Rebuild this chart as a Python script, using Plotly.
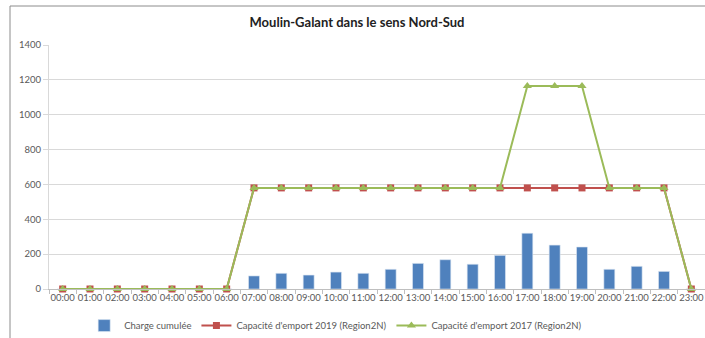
import plotly.graph_objects as go

# Hourly categories
hours = ["00:00", "01:00", "02:00", "03:00", "04:00", "05:00", "06:00", "07:00",
         "08:00", "09:00", "10:00", "11:00", "12:00", "13:00", "14:00", "15:00",
         "16:00", "17:00", "18:00", "19:00", "20:00", "21:00", "22:00", "23:00"]

# Cumulative load per hour
charge_cumulee = [0, 0, 0, 0, 0, 0, 0, 75, 90, 80, 97, 90, 113, 147, 168, 142,
                  193, 320, 252, 241, 113, 130, 101, 0]

# Carrying capacity 2019 (Region2N)
capacite_2019 = [0, 0, 0, 0, 0, 0, 0, 580, 580, 580, 580, 580, 580, 580, 580, 580,
                 580, 580, 580, 580, 580, 580, 580, 0]

# Carrying capacity 2017 (Region2N)
capacite_2017 = [0, 0, 0, 0, 0, 0, 0, 580, 580, 580, 580, 580, 580, 580, 580, 580,
                 580, 1165, 1165, 1165, 580, 580, 580, 0]

y_ticks = [0, 200, 400, 600, 800, 1000, 1200, 1400]

FONT = "Lato, Carlito, 'Open Sans', sans-serif"
GREY_TXT = "#595959"

fig = go.Figure()

fig.add_trace(go.Bar(
    x=hours, y=charge_cumulee, name="Charge cumulée",
    marker=dict(color="#4F81BD", line=dict(color="#DCE6F2", width=0.6)),
))

fig.add_trace(go.Scatter(
    x=hours, y=capacite_2019, name="Capacité d'emport 2019 (Region2N)",
    mode="lines+markers", cliponaxis=False,
    line=dict(color="#C0504D", width=2),
    marker=dict(symbol="square", size=7, color="#C0504D"),
))

fig.add_trace(go.Scatter(
    x=hours, y=capacite_2017, name="Capacité d'emport 2017 (Region2N)",
    mode="lines+markers", cliponaxis=False,
    line=dict(color="#9BBB59", width=2),
    marker=dict(symbol="triangle-up", size=8, color="#9BBB59"),
))

fig.update_layout(
    width=705, height=338,
    margin=dict(l=49, r=0, t=45, b=49, autoexpand=False),
    paper_bgcolor="white", plot_bgcolor="white",
    bargap=0.6,
    font=dict(family=FONT, size=9, color=GREY_TXT),
    title=dict(
        text="<b>Moulin-Galant dans le sens Nord-Sud</b>",
        x=357 / 705, xref="container", xanchor="center",
        y=1 - 22 / 338, yref="container", yanchor="middle",
        font=dict(family=FONT, size=13, color="#222222"),
    ),
    showlegend=True,
    legend=dict(
        orientation="h", x=0.437, xanchor="center",
        y=-0.15, yanchor="middle",
        font=dict(family=FONT, size=9.5, color=GREY_TXT),
        tracegroupgap=0,
    ),
    shapes=[
        # outer chart frame (left and top edges)
        dict(type="line", xref="paper", yref="paper",
             x0=-39 / 656, x1=-39 / 656, y0=1 + 39 / 244, y1=-49 / 244 - 0.1,
             line=dict(color="#8C8C8C", width=1)),
        dict(type="line", xref="paper", yref="paper",
             x0=-39 / 656, x1=1.1, y0=1 + 39 / 244, y1=1 + 39 / 244,
             line=dict(color="#8C8C8C", width=1)),
    ],
)

fig.update_xaxes(
    type="category", automargin=False,
    range=[-0.5, len(hours) - 0.5],
    showgrid=False,
    showline=True, linecolor="#BFBFBF", linewidth=1,
    ticks="outside", ticklen=4, tickcolor="#BFBFBF", tickson="boundaries",
    tickfont=dict(family=FONT, size=9.5, color=GREY_TXT),
    tickangle=0,
)

fig.update_yaxes(
    range=[0, 1400], tickvals=y_ticks, automargin=False,
    showgrid=True, gridcolor="#D9D9D9", gridwidth=1,
    showline=True, linecolor="#D9D9D9", linewidth=1,
    ticks="outside", ticklen=5, tickcolor="#D9D9D9",
    tickfont=dict(family=FONT, size=9.5, color=GREY_TXT),
    zeroline=False,
)

fig.write_html("out.html")
